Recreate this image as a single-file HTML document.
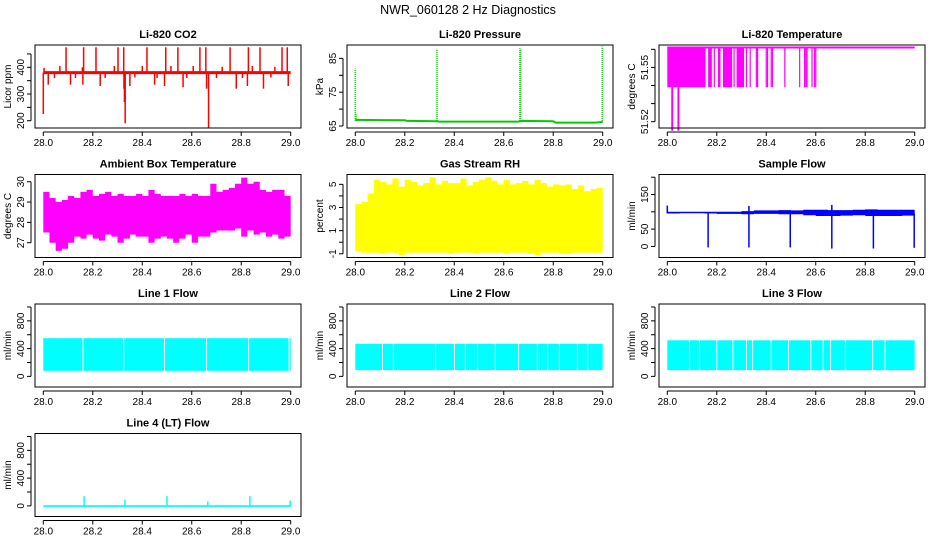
<!DOCTYPE html>
<html><head><meta charset="utf-8"><style>
html,body{margin:0;padding:0;background:#fff;}
svg{display:block;font-family:"Liberation Sans",Arial,sans-serif;}
</style></head><body>
<svg id="chart" width="936" height="540" viewBox="0 0 936 540" xmlns="http://www.w3.org/2000/svg">
<rect width="936" height="540" fill="#fff"/>
<text x="468" y="14" text-anchor="middle" font-size="12.5">NWR_060128  2 Hz Diagnostics</text>
</svg>
<script>
// ---- data arrays ----
const xTicks = [28.0, 28.2, 28.4, 28.6, 28.8, 29.0];
const xTickLabels = ["28.0","28.2","28.4","28.6","28.8","29.0"];

const co2Base = 380;
const co2SpikeX = [28.092,28.163,28.213,28.302,28.325,28.419,28.495,28.544,28.633,28.657,28.755,28.829,28.876,28.965,28.986,
  28.0,28.003,28.331,28.328,28.668,28.66,28.326,28.45,28.11,28.02,28.16,28.23,28.35,28.49,28.565,28.78,28.825,28.89,28.99,
  28.067,28.158,28.287,28.4,28.516,28.606,28.723,28.845,28.936,28.045,28.13,28.25,28.37,28.46,28.58,28.7,28.805,28.92];
const co2SpikeV = [475,475,475,475,475,475,475,475,475,475,475,475,475,475,475,
  225,398,190,270,173,320,320,335,335,335,335,330,330,330,325,320,330,320,330,
  405,400,405,405,405,405,402,405,402,360,360,360,362,360,360,360,360,362];

const presX = [28.0,28.2,28.21,28.33,28.34,28.66,28.67,28.8,28.81,28.97,29.0];
const presV = [66.8,66.7,66.5,66.4,66.3,66.3,66.5,66.4,66.0,66.0,66.2];
const presSpikeX = [28.0,28.003,28.33,28.665,28.668,28.998];
const presSpikeV = [82,68.5,87.5,88,87.8,88.5];

const tempHi = 51.561, tempLo = 51.539;
const tempBlocks = [[28.0,28.155],[28.165,28.18],[28.205,28.215],[28.225,28.262],[28.28,28.31]];
const tempDropX = [28.19,28.27,28.32,28.335,28.36,28.365,28.4,28.405,28.42,28.425,28.475,28.535,28.555,28.56,28.565,28.585,28.595,28.6];
const tempLowX = [28.02,28.045];
const tempLowV = [51.515,51.515];

const ambHi = [29.5,29.2,29.0,29.1,29.3,29.2,29.5,29.6,29.3,29.4,29.5,29.3,29.4,29.3,29.3,29.4,29.3,29.6,29.4,29.3,29.3,29.3,29.4,29.3,29.4,29.3,29.3,29.9,29.5,29.6,29.7,29.9,30.2,29.9,30.0,29.6,29.5,29.6,29.6,29.3];
const ambLo = [27.5,27.0,26.6,26.7,27.0,27.3,27.2,27.4,27.2,27.1,27.4,27.3,27.0,27.2,27.4,27.3,27.3,27.0,27.2,27.3,27.2,27.0,27.2,27.4,27.0,27.3,27.3,27.5,27.6,27.6,27.6,27.7,27.3,27.6,27.4,27.5,27.3,27.4,27.2,27.3];

const rhHi = [3.3,3.5,4.2,5.4,5.2,5.0,5.5,4.8,5.4,5.2,4.9,5.1,5.6,5.0,5.3,5.1,5.1,5.5,4.9,5.2,5.4,5.6,5.3,5.0,5.4,5.0,5.1,5.3,5.0,5.4,5.1,4.8,5.0,4.9,5.0,4.6,4.9,4.4,4.6,4.7];
const rhLo = [-0.8,-0.9,-0.9,-0.9,-1.0,-0.9,-0.9,-1.1,-0.9,-0.9,-0.9,-0.9,-0.9,-0.9,-0.9,-1.0,-0.9,-0.9,-0.9,-1.0,-0.9,-0.9,-0.9,-0.9,-1.0,-0.9,-0.9,-0.9,-1.0,-1.1,-0.9,-0.9,-0.9,-1.0,-1.0,-0.9,-0.9,-0.9,-0.9,-0.9];

const sfHi = [100,100,100,100,100,100,102,104,104,105,104,106,106,105,105,106,107,106,106,106];
const sfLo = [95,96,96,95,94,94,93,94,94,93,93,90,88,88,89,90,88,88,88,89];
const sfDropX = [28.165,28.33,28.497,28.665,28.833,28.998];
const sfDropV = [-3,-3,-3,-6,-6,-4];
const sfSpikeX = [28.0,28.33,28.665];
const sfSpikeV = [118,117,120];

const l1Hi = 550, l1Lo = 80;
const l1Gaps = [28.16,28.325,28.49,28.66,28.83,28.993];
const l2Hi = 470, l2Lo = 90;
const l2Gaps = [28.11,28.154,28.324,28.401,28.445,28.494,28.566,28.66,28.736,28.777,28.825,28.898,28.939];
const l3Hi = 520, l3Lo = 90;
const l3Gaps = [28.09,28.13,28.2,28.265,28.32,28.345,28.42,28.49,28.58,28.63,28.66,28.72,28.83,28.88];
const l4SpikeX = [28.165,28.33,28.5,28.665,28.835,28.998];
const l4SpikeV = [140,90,140,65,140,75];

// ---- helpers ----
const svg = document.getElementById('chart');
const NS = 'http://www.w3.org/2000/svg';
function mk(tag, attrs, parent){
  const e = document.createElementNS(NS, tag);
  for (const k in attrs) e.setAttribute(k, attrs[k]);
  (parent||svg).appendChild(e);
  return e;
}
function makePanel(col,row,title,ylab,ydom,yTicks,yLabels,name){
  const L = 35 + col*312, T = 45 + row*129.5, W = 266, H = 83;
  const g = mk('g',{});
  
  
  const xs = v => L + 8.3 + (v-28)*247.4;
  const ys = v => T + H - (v-ydom[0])/(ydom[1]-ydom[0])*H;
  const t = mk('text',{x:L+W/2,y:T-7,'text-anchor':'middle','font-size':'11','font-weight':'bold'},g);
  t.textContent = title;
  
  
  const yl = mk('text',{x:0,y:0,'text-anchor':'middle','font-size':'10',transform:`translate(${L-24},${T+H/2}) rotate(-90)`},g);
  yl.textContent = ylab;
  
  
  const plot = mk('g',{},g);
  
  
  const ax = mk('g',{stroke:'#000','stroke-width':'1'},g);
  
  
  mk('rect',{x:L,y:T,width:W,height:H,fill:'none'},ax);
  mk('line',{x1:xs(28),x2:xs(29),y1:T+H+4,y2:T+H+4},ax);
  xTicks.forEach((v,i)=>{
    mk('line',{x1:xs(v),x2:xs(v),y1:T+H+4,y2:T+H+8},ax);
    const tl = mk('text',{x:xs(v),y:T+H+18,'text-anchor':'middle','font-size':'10',stroke:'none'},g);
    tl.textContent = xTickLabels[i];
    
    
  });
  mk('line',{x1:L-4,x2:L-4,y1:ys(yTicks[0]),y2:ys(yTicks[yTicks.length-1])},ax);
  yTicks.forEach((v,i)=>{
    mk('line',{x1:L-4,x2:L-8,y1:ys(v),y2:ys(v)},ax);
    if (yLabels[i]) {
      const tl = mk('text',{x:0,y:0,'text-anchor':'middle','font-size':'10',transform:`translate(${L-11},${ys(v)}) rotate(-90)`},g);
      tl.textContent = yLabels[i];
      
      
    }
  });
  return {plot,xs,ys};
}
function vline(p,x,y0,y1,color,w){
  const e = mk('line',{x1:p.xs(x),x2:p.xs(x),y1:p.ys(y0),y2:p.ys(y1),stroke:color,'stroke-width':w||1},p.plot);
  
  return e;
}
function band(p,hi,lo,color,name){
  const n = hi.length; let pts = [];
  for (let i=0;i<n;i++){ const a=28+i/n, b=28+(i+1)/n; pts.push([p.xs(a),p.ys(hi[i])],[p.xs(b),p.ys(hi[i])]); }
  for (let i=n-1;i>=0;i--){ const a=28+i/n, b=28+(i+1)/n; pts.push([p.xs(b),p.ys(lo[i])],[p.xs(a),p.ys(lo[i])]); }
  const e = mk('polygon',{points:pts.map(q=>q.join(',')).join(' '),fill:color},p.plot);
  
  
}
function flowBand(p,hi,lo,gaps,color,name,gw){
  const e = mk('rect',{x:p.xs(28),y:p.ys(hi),width:p.xs(29)-p.xs(28),height:p.ys(lo)-p.ys(hi),fill:color},p.plot);
  
  
  gaps.forEach(x=>{
    const gp = mk('line',{x1:p.xs(x),x2:p.xs(x),y1:p.ys(hi)-1,y2:p.ys(lo)+1,stroke:'#fff','stroke-width':gw},p.plot);
    
    
  });
}

// ---- CO2 ----
let p = makePanel(0,0,'Li-820 CO2','Licor ppm',[172.7,483.5],[200,250,300,350,400,450],['200','','300','','400',''],'co2-panel');
co2SpikeX.forEach((x,i)=>{ const e=vline(p,x,co2Base,co2SpikeV[i],'#f00',1.5);
   });
let e = mk('line',{x1:p.xs(28),x2:p.xs(29),y1:p.ys(co2Base),y2:p.ys(co2Base),stroke:'#f00','stroke-width':'3'},p.plot);



// ---- Pressure ----
p = makePanel(1,0,'Li-820 Pressure','kPa',[64.41,88.96],[65,70,75,80,85],['65','','75','','85'],'pressure-panel');
let pp = presX.map((x,i)=>p.xs(x)+','+p.ys(presV[i])).join(' ');
e = mk('polyline',{points:pp,fill:'none',stroke:'#0c0','stroke-width':'2'},p.plot);


presSpikeX.forEach((x,i)=>{ const s=vline(p,x,66.5,presSpikeV[i],'#0c0',1.5);
   s.setAttribute('stroke-dasharray','1,1'); });

// ---- Temperature ----
p = makePanel(2,0,'Li-820 Temperature','degrees C',[51.5165,51.5624],[51.52,51.53,51.54,51.55,51.56],['51.52','','','51.55',''],'temperature-panel');
tempBlocks.forEach(b=>{ const r=mk('rect',{x:p.xs(b[0]),y:p.ys(tempHi),width:p.xs(b[1])-p.xs(b[0]),height:p.ys(tempLo)-p.ys(tempHi),fill:'#f0f'},p.plot);
    });
tempDropX.forEach(x=>{ const s=vline(p,x,tempHi,tempLo,'#f0f',1.2);  });
tempLowX.forEach((x,i)=>{ const s=vline(p,x,tempLo,tempLowV[i],'#f0f',2);  });
e = mk('line',{x1:p.xs(28),x2:p.xs(29),y1:p.ys(tempHi),y2:p.ys(tempHi),stroke:'#f0f','stroke-width':'2'},p.plot);



// ---- Ambient ----
p = makePanel(0,1,'Ambient Box Temperature','degrees C',[26.272,30.356],[27,28,29,30],['27','28','29','30'],'ambient-panel');
band(p,ambHi,ambLo,'#f0f','ambient-band');

// ---- RH ----
p = makePanel(1,1,'Gas Stream RH','percent',[-1.32,5.85],[-1,0,1,2,3,4,5],['-1','','1','','3','','5'],'rh-panel');
band(p,rhHi,rhLo,'#ff0','rh-band');

// ---- Sample flow ----
p = makePanel(2,1,'Sample Flow','ml/min',[-32,207.8],[0,50,100,150,200],['0','50','','150',''],'sample-flow-panel');
band(p,sfHi,sfLo,'#00f','sample-flow-band');
sfDropX.forEach((x,i)=>{ const s=vline(p,x,95,sfDropV[i],'#00f',1.5);  });
sfSpikeX.forEach((x,i)=>{ const s=vline(p,x,95,sfSpikeV[i],'#00f',1.5);  });

// ---- Line flows ----
const fT = [0,200,400,600,800,1000], fL = ['0','','400','','800',''];
p = makePanel(0,2,'Line 1 Flow','ml/min',[-153,1043],fT,fL,'line1-panel');
flowBand(p,l1Hi,l1Lo,l1Gaps,'#0ff','line1-band',1);
p = makePanel(1,2,'Line 2 Flow','ml/min',[-153,1043],fT,fL,'line2-panel');
flowBand(p,l2Hi,l2Lo,l2Gaps,'#0ff','line2-band',1);
p = makePanel(2,2,'Line 3 Flow','ml/min',[-153,1043],fT,fL,'line3-panel');
flowBand(p,l3Hi,l3Lo,l3Gaps,'#0ff','line3-band',1);
p = makePanel(0,3,'Line 4 (LT) Flow','ml/min',[-153,1043],fT,fL,'line4-panel');
e = mk('rect',{x:p.xs(28),y:p.ys(10),width:p.xs(29)-p.xs(28),height:p.ys(-15)-p.ys(10),fill:'#0ff'},p.plot);


l4SpikeX.forEach((x,i)=>{ const s=vline(p,x,0,l4SpikeV[i],'#0ff',1.5);  });
</script>
</body></html>
